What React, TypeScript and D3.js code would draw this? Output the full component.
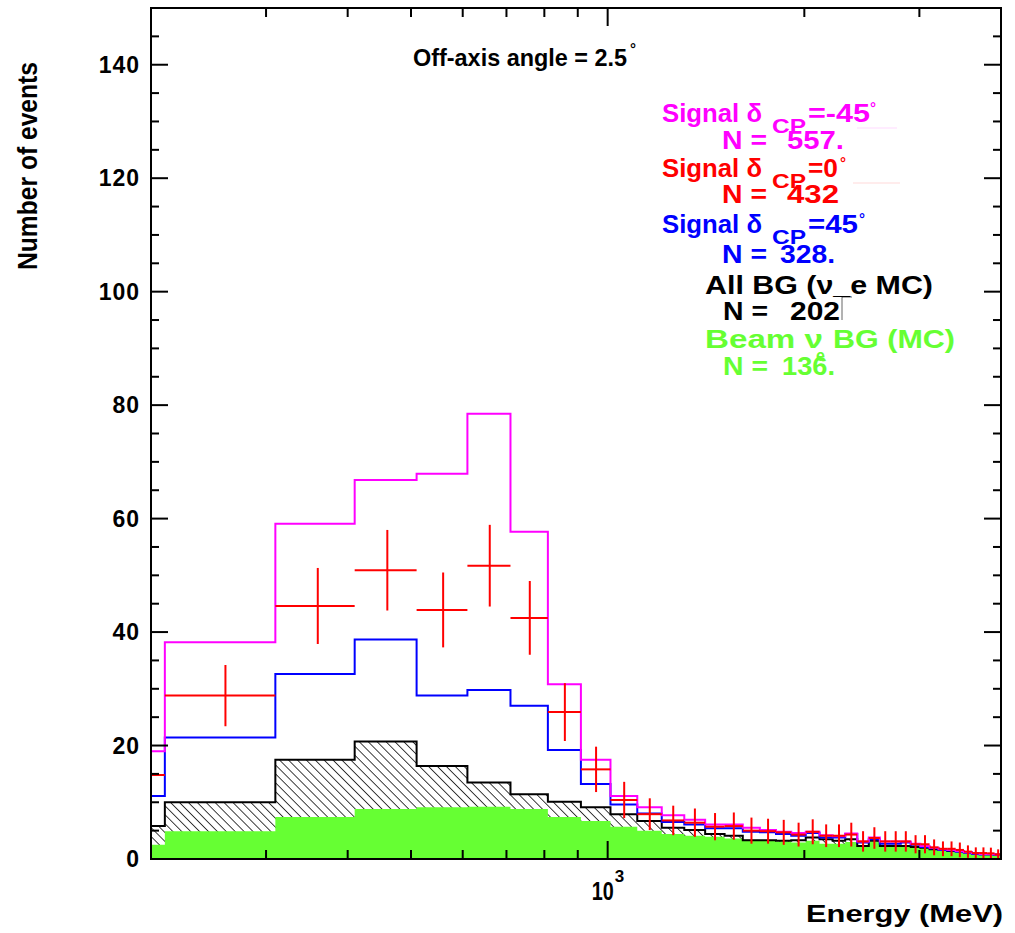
import React from 'react';
import * as d3 from 'd3';

// ---- Data ----
const binLowEdges = [110, 210, 310, 410, 510, 610, 710, 810, 910, 1010, 1110, 1210, 1310, 1410, 1510, 1610, 1710, 1810, 1910, 2010, 2110, 2210, 2310, 2410, 2510, 2610, 2710, 2810, 2910, 3010, 3110, 3210, 3310, 3410, 3510, 3610, 3710, 3810, 3910];
const binUpEdge = 4010;

const sigM45 = [19.0, 38.2, 59.1, 66.8, 67.9, 78.5, 57.7, 30.8, 17.5, 11.1, 9.1, 7.7, 6.9, 6.1, 6.1, 5.5, 5.1, 4.8, 4.6, 4.8, 4.2, 4.0, 4.5, 3.1, 3.8, 3.1, 3.1, 3.1, 2.7, 2.3, 2.0, 1.7, 1.6, 1.4, 1.2, 1.0, 0.9, 0.9, 0.8];
const sig0 = [14.8, 28.8, 44.6, 50.9, 43.9, 51.7, 42.5, 25.9, 15.8, 10.4, 7.9, 6.8, 6.4, 5.7, 5.8, 5.0, 4.9, 4.7, 4.3, 4.8, 4.1, 4.1, 4.3, 3.1, 3.7, 3.1, 3.1, 3.1, 2.6, 2.6, 2.05, 1.8, 1.8, 1.6, 1.3, 1.05, 1.05, 1.0, 0.8];
const sig0Err = [3.8, 5.4, 6.7, 7.1, 6.6, 7.2, 6.5, 5.1, 4.0, 3.2, 2.8, 2.6, 2.5, 2.4, 2.4, 2.3, 2.2, 2.2, 2.1, 2.2, 2.0, 2.0, 2.1, 1.8, 1.9, 1.8, 1.8, 1.8, 1.6, 1.6, 1.4, 1.3, 1.3, 1.3, 1.1, 1.0, 1.0, 1.0, 0.9];
const sigP45 = [11.1, 21.4, 32.6, 38.7, 28.8, 29.8, 27.0, 19.2, 13.2, 9.6, 8.0, 6.5, 6.1, 5.4, 5.4, 4.8, 4.7, 4.4, 4.1, 4.6, 3.8, 3.8, 4.4, 2.9, 3.5, 2.7, 2.7, 2.9, 2.5, 2.1, 1.9, 1.6, 1.5, 1.3, 1.1, 0.9, 0.8, 0.8, 0.7];
const allBG = [5.8, 10.0, 17.5, 20.7, 16.4, 13.5, 11.4, 10.1, 9.1, 7.9, 6.7, 5.5, 5.1, 4.4, 4.1, 3.3, 3.3, 3.2, 3.3, 3.8, 3.5, 3.2, 3.5, 2.3, 3.2, 2.3, 2.3, 2.3, 2.1, 2.0, 1.7, 1.6, 1.4, 1.4, 1.2, 1.0, 0.9, 0.9, 0.8];
const beamBG = [2.5, 4.9, 7.4, 8.8, 9.1, 9.2, 8.8, 7.4, 6.7, 5.7, 5.0, 4.4, 4.1, 3.9, 3.6, 3.4, 3.3, 3.1, 2.9, 3.2, 2.7, 2.7, 3.0, 2.3, 3.1, 2.3, 2.3, 2.3, 2.0, 1.9, 1.7, 1.6, 1.4, 1.3, 1.1, 0.9, 0.8, 0.7, 0.6];

const yMajorTicks = [0, 20, 40, 60, 80, 100, 120, 140];
const yMinorTicks = [5, 10, 15, 25, 30, 35, 45, 50, 55, 65, 70, 75, 85, 90, 95, 105, 110, 115, 125, 130, 135, 145, 150];
const xMinorTicks = [300, 400, 500, 600, 700, 800, 900, 2000, 3000];
const xMajorTicks = [1000];

const xDomain = [200, 4000];
const yDomain = [0, 150];

const COL_M = '#ff00ff';
const COL_R = '#ff0000';
const COL_B = '#0000ff';
const COL_G = '#66ff33';
const FONT = '"Liberation Sans", Arial, Helvetica, sans-serif';

export default function App() {
  const x = d3.scaleLog().domain(xDomain).range([151, 1001]);
  const y = d3.scaleLinear().domain(yDomain).range([859, 8]);

  const stepPts = (vals: number[]): [number, number][] => {
    const pts: [number, number][] = [[binLowEdges[0], 0]];
    vals.forEach((v, i) => pts.push([binLowEdges[i], v]));
    pts.push([binUpEdge, vals[vals.length - 1]]);
    pts.push([binUpEdge, 0]);
    return pts;
  };
  const areaPts = (vals: number[]): [number, number][] => {
    const pts: [number, number][] = vals.map((v, i) => [binLowEdges[i], v] as [number, number]);
    pts.push([binUpEdge, vals[vals.length - 1]]);
    return pts;
  };
  const line = d3.line<[number, number]>().x(d => x(d[0])).y(d => y(d[1])).curve(d3.curveStepAfter);
  const area = d3.area<[number, number]>().x(d => x(d[0])).y0(y(0)).y1(d => y(d[1])).curve(d3.curveStepAfter);

  const binHigh = (i: number) => (i + 1 < binLowEdges.length ? binLowEdges[i + 1] : binUpEdge);

  const [x0, x1] = x.range();
  const [yb, yt] = y.range();

  const txt = (props: any, s: string) => (
    <text fontFamily={FONT} fontWeight="bold" {...props}>{s}</text>
  );

  return (
    <svg width={1015} height={933} style={{ position: 'absolute', left: 0, top: 0, background: '#fff' }}>
      <defs>
        <clipPath id="plotClip">
          <rect x={x0} y={yt} width={x1 - x0} height={yb - yt} />
        </clipPath>
        <pattern id="hatch" patternUnits="userSpaceOnUse" width={6.3} height={6.3} patternTransform="rotate(-45)">
          <rect width={6.3} height={6.3} fill="#fff" />
          <line x1={0} y1={-1} x2={0} y2={7.3} stroke="#000" strokeWidth={1.5} />
        </pattern>
      </defs>
      <rect x={0} y={0} width={1015} height={933} fill="#fff" />

      <g clipPath="url(#plotClip)">
        {/* All BG hatched */}
        <path d={area(areaPts(allBG)) || ''} fill="url(#hatch)" />
        {/* Beam nu_e BG green */}
        <path d={area(areaPts(beamBG)) || ''} fill={COL_G} />
        <path d={line(stepPts(allBG)) || ''} fill="none" stroke="#000" strokeWidth={2} />
        {/* signals */}
        <path d={line(stepPts(sigP45)) || ''} fill="none" stroke={COL_B} strokeWidth={2} />
        <path d={line(stepPts(sigM45)) || ''} fill="none" stroke={COL_M} strokeWidth={2} />
        {sig0.map((v, i) => {
          const lo = binLowEdges[i];
          const hi = binHigh(i);
          const c = (lo + hi) / 2;
          const e = sig0Err[i];
          return (
            <g key={i} stroke={COL_R} strokeWidth={2}>
              <line x1={x(lo)} x2={x(hi)} y1={y(v)} y2={y(v)} />
              <line x1={x(c)} x2={x(c)} y1={y(v - e)} y2={y(v + e)} />
            </g>
          );
        })}
      </g>

      {/* frame */}
      <rect x={x0} y={yt} width={x1 - x0} height={yb - yt} fill="none" stroke="#000" strokeWidth={2} />

      {/* y ticks */}
      {yMajorTicks.map(t => (
        <g key={'ym' + t} stroke="#000" strokeWidth={2}>
          <line x1={x0} x2={x0 + 17} y1={y(t)} y2={y(t)} />
          <line x1={x1} x2={x1 - 17} y1={y(t)} y2={y(t)} />
        </g>
      ))}
      {yMinorTicks.map(t => (
        <g key={'yn' + t} stroke="#000" strokeWidth={2}>
          <line x1={x0} x2={x0 + 8} y1={y(t)} y2={y(t)} />
          <line x1={x1} x2={x1 - 8} y1={y(t)} y2={y(t)} />
        </g>
      ))}
      {/* x ticks */}
      {xMajorTicks.map(t => (
        <g key={'xm' + t} stroke="#000" strokeWidth={2}>
          <line x1={x(t)} x2={x(t)} y1={yb} y2={yb - 18} />
          <line x1={x(t)} x2={x(t)} y1={yt} y2={yt + 18} />
        </g>
      ))}
      {xMinorTicks.map(t => (
        <g key={'xn' + t} stroke="#000" strokeWidth={2}>
          <line x1={x(t)} x2={x(t)} y1={yb} y2={yb - 9} />
          <line x1={x(t)} x2={x(t)} y1={yt} y2={yt + 9} />
        </g>
      ))}

      {/* y tick labels */}
      {yMajorTicks.map(t => (
        <text key={'yl' + t} x={140} y={y(t) + 8} textAnchor="end" fontFamily={FONT} fontWeight="bold" fontSize={23} letterSpacing={1}>{String(t)}</text>
      ))}
      {/* x tick label 10^3 */}
      <text x={x(1000) - 16} y={900} fontFamily={FONT} fontWeight="bold" fontSize={25} textLength={22} lengthAdjust="spacingAndGlyphs">10</text>
      <text x={x(1000) + 7} y={882} fontFamily={FONT} fontWeight="bold" fontSize={17}>3</text>

      {/* axis titles */}
      <text x={1003} y={922} textAnchor="end" fontFamily={FONT} fontWeight="bold" fontSize={24} textLength={197} lengthAdjust="spacingAndGlyphs">Energy (MeV)</text>
      <text transform="translate(37,166) rotate(-90)" textAnchor="middle" fontFamily={FONT} fontWeight="bold" fontSize={28} textLength={208} lengthAdjust="spacingAndGlyphs">Number of events</text>

      {/* title */}
      {txt({ x: 413, y: 66, fontSize: 24, textLength: 214, lengthAdjust: 'spacingAndGlyphs' }, 'Off-axis angle = 2.5')}
      {txt({ x: 630, y: 54, fontSize: 15 }, '°')}

      {/* legend: signal -45 */}
      <g fill={COL_M}>
        {txt({ x: 662, y: 122, fontSize: 26, textLength: 100, lengthAdjust: 'spacingAndGlyphs' }, 'Signal δ')}
        {txt({ x: 772, y: 133, fontSize: 21, textLength: 34, lengthAdjust: 'spacingAndGlyphs' }, 'CP')}
        {txt({ x: 808, y: 122, fontSize: 26, textLength: 62, lengthAdjust: 'spacingAndGlyphs' }, '=-45')}
        {txt({ x: 870, y: 113, fontSize: 15 }, '°')}
        {txt({ x: 722, y: 149, fontSize: 26, textLength: 45, lengthAdjust: 'spacingAndGlyphs' }, 'N =')}
        {txt({ x: 787, y: 149, fontSize: 26, textLength: 57, lengthAdjust: 'spacingAndGlyphs' }, '557.')}
      </g>
      <line x1={857} x2={897} y1={128} y2={128} stroke={COL_M} strokeOpacity={0.15} strokeWidth={1} />
      {/* signal 0 */}
      <g fill={COL_R}>
        {txt({ x: 662, y: 177, fontSize: 26, textLength: 100, lengthAdjust: 'spacingAndGlyphs' }, 'Signal δ')}
        {txt({ x: 772, y: 188, fontSize: 21, textLength: 34, lengthAdjust: 'spacingAndGlyphs' }, 'CP')}
        {txt({ x: 808, y: 177, fontSize: 26, textLength: 30, lengthAdjust: 'spacingAndGlyphs' }, '=0')}
        {txt({ x: 840, y: 168, fontSize: 15 }, '°')}
        {txt({ x: 722, y: 203, fontSize: 26, textLength: 45, lengthAdjust: 'spacingAndGlyphs' }, 'N =')}
        {txt({ x: 787, y: 203, fontSize: 26, textLength: 52, lengthAdjust: 'spacingAndGlyphs' }, '432')}
      </g>
      <line x1={853} x2={900} y1={183} y2={183} stroke={COL_R} strokeOpacity={0.15} strokeWidth={1} />
      {/* signal +45 */}
      <g fill={COL_B}>
        {txt({ x: 662, y: 233, fontSize: 26, textLength: 100, lengthAdjust: 'spacingAndGlyphs' }, 'Signal δ')}
        {txt({ x: 772, y: 244, fontSize: 21, textLength: 34, lengthAdjust: 'spacingAndGlyphs' }, 'CP')}
        {txt({ x: 808, y: 233, fontSize: 26, textLength: 50, lengthAdjust: 'spacingAndGlyphs' }, '=45')}
        {txt({ x: 859, y: 224, fontSize: 15 }, '°')}
        {txt({ x: 722, y: 263, fontSize: 26, textLength: 45, lengthAdjust: 'spacingAndGlyphs' }, 'N =')}
        {txt({ x: 780, y: 263, fontSize: 26, textLength: 55, lengthAdjust: 'spacingAndGlyphs' }, '328.')}
      </g>
      {/* all BG */}
      <g fill="#000">
        {txt({ x: 705, y: 294, fontSize: 26, textLength: 228, lengthAdjust: 'spacingAndGlyphs' }, 'All BG (ν_e MC)')}
        {txt({ x: 723, y: 320, fontSize: 26, textLength: 45, lengthAdjust: 'spacingAndGlyphs' }, 'N =')}
        {txt({ x: 790, y: 320, fontSize: 26, textLength: 50, lengthAdjust: 'spacingAndGlyphs' }, '202')}
      </g>
      <path d="M842,320 L842,297 L852,297" fill="none" stroke="#000" strokeWidth={1} strokeOpacity={0.6} />
      {/* beam nu_e BG */}
      <g fill={COL_G}>
        {txt({ x: 705, y: 348, fontSize: 26, textLength: 118, lengthAdjust: 'spacingAndGlyphs' }, 'Beam ν')}
        {txt({ x: 816, y: 361, fontSize: 16 }, 'e')}
        {txt({ x: 833, y: 348, fontSize: 26, textLength: 122, lengthAdjust: 'spacingAndGlyphs' }, 'BG (MC)')}
        {txt({ x: 723, y: 375, fontSize: 26, textLength: 45, lengthAdjust: 'spacingAndGlyphs' }, 'N =')}
        {txt({ x: 782, y: 375, fontSize: 26, textLength: 53, lengthAdjust: 'spacingAndGlyphs' }, '136.')}
      </g>
    </svg>
  );
}
